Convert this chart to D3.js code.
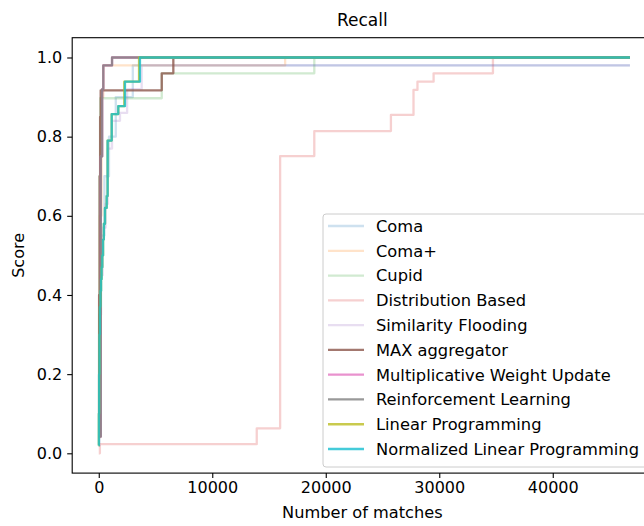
<!DOCTYPE html>
<html>
<head>
<meta charset="utf-8">
<script src="https://cdn.jsdelivr.net/npm/d3@7"></script>
<style>
  html, body { margin: 0; padding: 0; background: #fff; }
  svg { display: block; font-family: "DejaVu Sans", sans-serif; }
</style>
</head>
<body>
<svg id="chart" width="644" height="526"></svg>
<script>
// Recall as a function of the number of matches returned, one step curve per matcher.
const seriesNames = [
  "Coma", "Coma+", "Cupid", "Distribution Based", "Similarity Flooding",
  "MAX aggregator", "Multiplicative Weight Update", "Reinforcement Learning",
  "Linear Programming", "Normalized Linear Programming"
];
const seriesColors = [
  "#1f77b4", "#ff7f0e", "#2ca02c", "#d62728", "#9467bd",
  "#8c564b", "#e377c2", "#7f7f7f", "#bcbd22", "#17becf"
];
const seriesAlpha = [0.22, 0.22, 0.22, 0.22, 0.22, 0.8, 0.8, 0.8, 0.8, 0.8];

// Last match count reached by every curve
const lastMatch = 46800;

// Match counts where each curve steps, and the recall held from that count on
const comaMatches = [0, 50, 200, 500, 900, 1500, 3000];
const comaRecall  = [0.02, 0.35, 0.55, 0.7, 0.8, 0.9, 0.98];

const comaPlusMatches = [0, 100, 250, 400, 16420];
const comaPlusRecall  = [0.04, 0.6, 0.9, 0.98, 1.0];

const cupidMatches = [0, 50, 120, 5550, 18990];
const cupidRecall  = [0.3, 0.7, 0.897, 0.96, 1.0];

const distMatches = [0, 100, 13920, 15980, 18990, 25740, 27730, 28080, 29500, 34730];
const distRecall  = [0.0, 0.023, 0.063, 0.751, 0.814, 0.855, 0.918, 0.939, 0.96, 1.0];

const simFloodMatches = [0, 30, 150, 350, 600, 800, 1170, 1870, 2500, 3780];
const simFloodRecall  = [0.02, 0.3, 0.45, 0.57, 0.63, 0.77, 0.84, 0.86, 0.92, 0.98];

const maxAggMatches = [0, 30, 80, 120, 170, 5550, 6570];
const maxAggRecall  = [0.1, 0.4, 0.7, 0.85, 0.917, 0.96, 1.0];

const mwuMatches = [0, 180, 300, 400, 1170];
const mwuRecall  = [0.042, 0.75, 0.92, 0.98, 1.0];

const rlMatches = [0, 180, 300, 400, 1170];
const rlRecall  = [0.042, 0.75, 0.92, 0.98, 1.0];

const lpMatches = [0, 10, 30, 60, 100, 150, 200, 250, 310, 380, 450, 550, 700, 780, 1140, 1720, 2250, 3550];
const lpRecall  = [0.02, 0.1, 0.2, 0.3, 0.37, 0.41, 0.44, 0.47, 0.5, 0.54, 0.58, 0.62, 0.65, 0.79, 0.857, 0.877, 0.939, 1.0];

const nlpMatches = [0, 10, 30, 60, 100, 150, 200, 250, 310, 380, 450, 550, 700, 780, 1140, 1720, 2310, 3630];
const nlpRecall  = [0.02, 0.1, 0.2, 0.3, 0.37, 0.41, 0.44, 0.47, 0.5, 0.54, 0.58, 0.62, 0.65, 0.79, 0.857, 0.877, 0.939, 1.0];

const seriesMatches = [comaMatches, comaPlusMatches, cupidMatches, distMatches, simFloodMatches,
                       maxAggMatches, mwuMatches, rlMatches, lpMatches, nlpMatches];
const seriesRecall  = [comaRecall, comaPlusRecall, cupidRecall, distRecall, simFloodRecall,
                       maxAggRecall, mwuRecall, rlRecall, lpRecall, nlpRecall];

const xTickValues = [0, 10000, 20000, 30000, 40000];
const yTickValues = [0.0, 0.2, 0.4, 0.6, 0.8, 1.0];

// Build point lists: each curve steps along its counts and runs on to the last match
const series = seriesNames.map((name, i) => {
  const m = seriesMatches[i], r = seriesRecall[i];
  const pts = m.map((x, j) => ({ x, y: r[j] }));
  pts.push({ x: lastMatch, y: r[r.length - 1] });
  return { name, color: seriesColors[i], alpha: seriesAlpha[i], pts };
});

const svg = d3.select("#chart");
const W = 644, H = 526;

const plot = { left: 72.2, right: 656.5, top: 37.7, bottom: 473.1 };
const lineWidth = 2.3;

const xMax = d3.max(series, s => d3.max(s.pts, p => p.x));
const xPad = xMax * 0.05;
const x = d3.scaleLinear().domain([-xPad, xMax + xPad]).range([plot.left, plot.right]);
const y = d3.scaleLinear().domain([-0.05, 1.05]).range([plot.bottom, plot.top]);

svg.append("rect").attr("width", W).attr("height", H).attr("fill", "#fff");

// Curves
const line = d3.line().x(p => x(p.x)).y(p => y(p.y)).curve(d3.curveStepAfter);
const curves = svg.append("g").attr("class", "curves");
series.forEach(s => {
  curves.append("path")
    .attr("d", line(s.pts))
    .attr("fill", "none")
    .attr("stroke", s.color)
    .attr("stroke-opacity", s.alpha)
    .attr("stroke-width", lineWidth)
    .attr("stroke-linejoin", "round");
});

// Axes
const textSize = 16;
const xAxis = d3.axisBottom(x).tickValues(xTickValues).tickFormat(d3.format("d")).tickSizeOuter(0).tickSize(5).tickPadding(4);
const yAxis = d3.axisLeft(y).tickValues(yTickValues).tickFormat(d3.format(".1f")).tickSizeOuter(0).tickSize(5).tickPadding(5);

const gx = svg.append("g").attr("transform", `translate(0,${plot.bottom})`).call(xAxis);
const gy = svg.append("g").attr("transform", `translate(${plot.left},0)`).call(yAxis);
[gx, gy].forEach(g => {
  g.select(".domain").remove();
  g.selectAll(".tick line").attr("stroke", "#000").attr("stroke-width", 1.1);
  g.selectAll(".tick text").attr("fill", "#000").attr("font-size", textSize)
    .attr("font-family", "DejaVu Sans");
});

// Spines (right spine lies past the visible edge)
const spines = svg.append("g").attr("stroke", "#000").attr("stroke-width", 1.1).attr("fill", "none");
spines.append("rect")
  .attr("x", plot.left).attr("y", plot.top)
  .attr("width", plot.right - plot.left).attr("height", plot.bottom - plot.top);

// Titles
svg.append("text").attr("x", (plot.left + plot.right) / 2 - 2).attr("y", 26)
  .attr("text-anchor", "middle").attr("font-size", 17).text("Recall");
svg.append("text").attr("x", (plot.left + plot.right) / 2 - 2).attr("y", 518)
  .attr("text-anchor", "middle").attr("font-size", 16.2).text("Number of matches");
svg.append("text")
  .attr("transform", `translate(24,${(plot.top + plot.bottom) / 2}) rotate(-90)`)
  .attr("text-anchor", "middle").attr("font-size", textSize).text("Score");

// Legend
const legend = svg.append("g").attr("transform", "translate(323,214)");
const rowH = 24.78;
legend.append("rect")
  .attr("x", 0).attr("y", 0).attr("width", 360).attr("height", 253)
  .attr("rx", 3).attr("fill", "#fff").attr("fill-opacity", 0.8)
  .attr("stroke", "#cccccc").attr("stroke-width", 1);
series.forEach((s, i) => {
  const cy = 12 + i * rowH;
  legend.append("line")
    .attr("x1", 5).attr("x2", 41).attr("y1", cy).attr("y2", cy)
    .attr("stroke", s.color).attr("stroke-opacity", s.alpha).attr("stroke-width", lineWidth);
  legend.append("text")
    .attr("x", 53).attr("y", cy).attr("dy", "0.36em")
    .attr("font-size", 16.3).attr("fill", "#000").text(s.name);
});
</script>
</body>
</html>
